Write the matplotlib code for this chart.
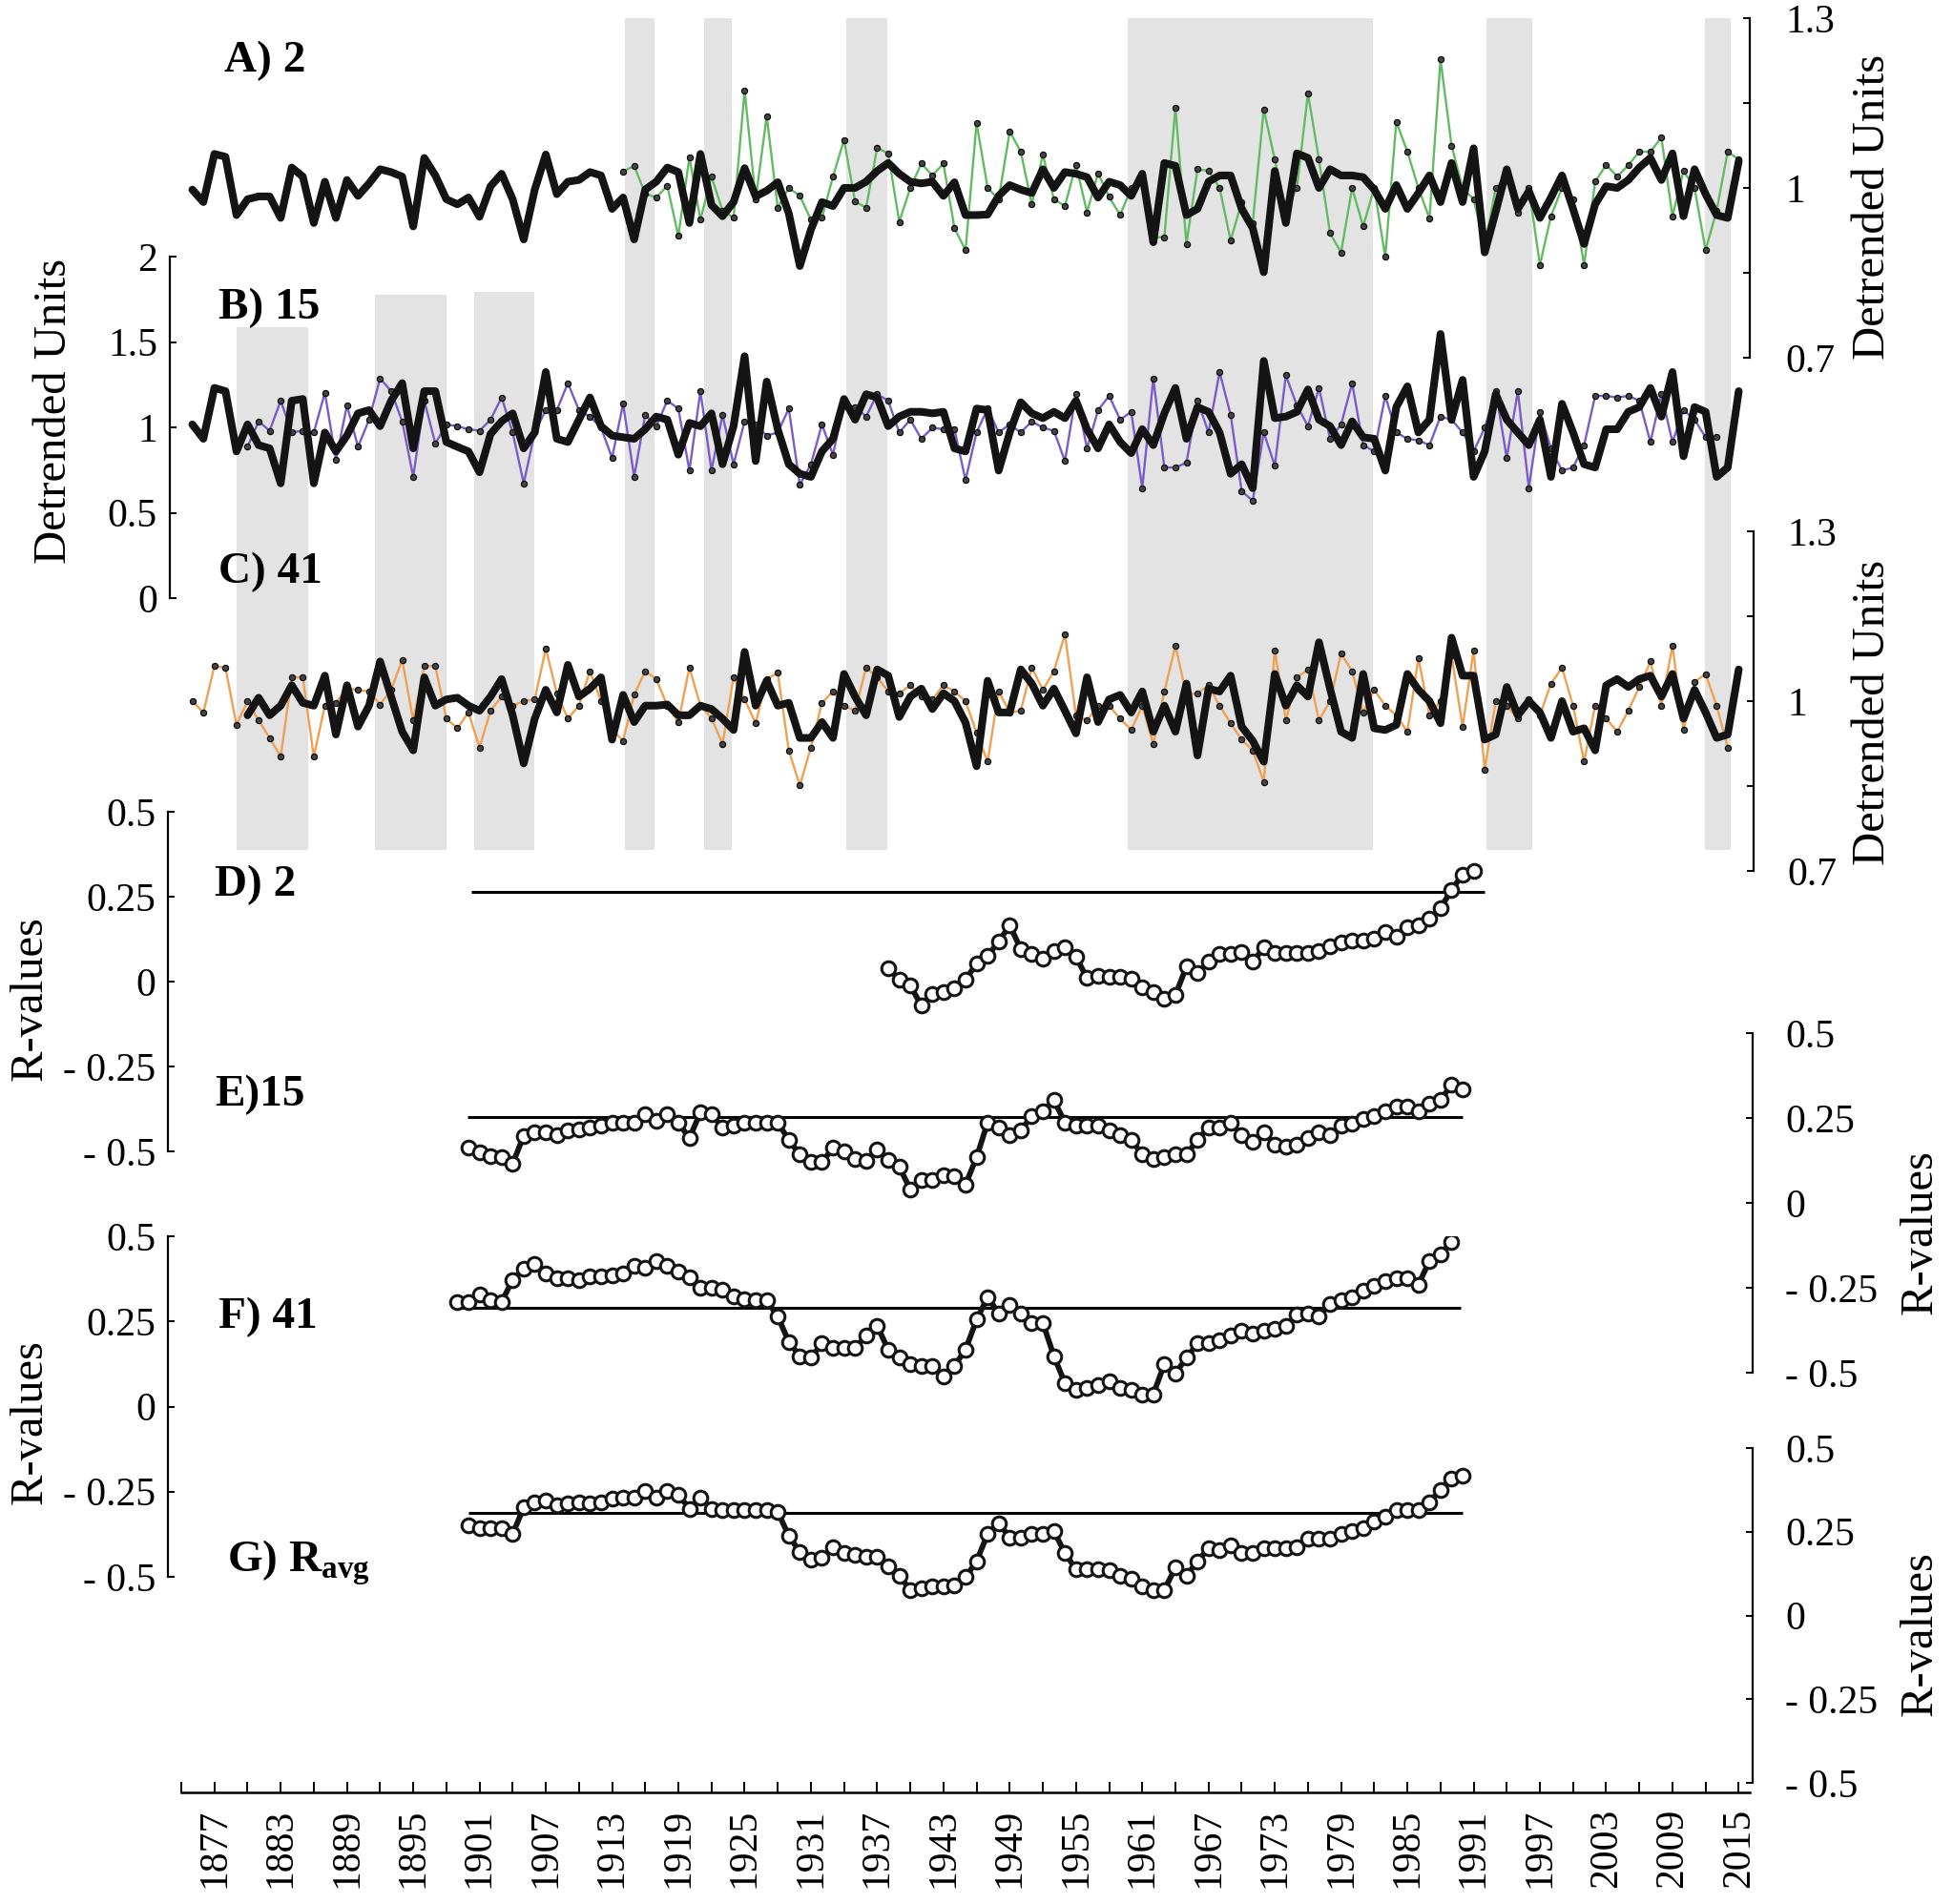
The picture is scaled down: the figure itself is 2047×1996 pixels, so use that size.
import numpy as np
import matplotlib
matplotlib.use('Agg')
import matplotlib.pyplot as plt

plt.rcParams['font.family'] = ['Liberation Serif', 'DejaVu Serif']
plt.rcParams['mathtext.fontset'] = 'custom'
plt.rcParams['mathtext.rm'] = 'Liberation Serif'
plt.rcParams['mathtext.bf'] = 'Liberation Serif:bold'

# ---- data ----
# shaded years
band_start = [1879.0, 1891.5, 1900.5, 1914.2, 1921.3, 1934.2, 1959.7, 1992.2, 2011.9]
band_end = [1885.5, 1898.0, 1906.0, 1916.8, 1923.8, 1937.9, 1981.9, 1996.3, 2014.3]

# panel A (site 2)
a_black_start = 1875
a_black = [0.997, 0.975, 1.060, 1.055, 0.952, 0.980, 0.985, 0.985, 0.947, 1.036,
           1.020, 0.938, 1.011, 0.947, 1.014, 0.986, 1.008, 1.033, 1.028, 1.020,
           0.932, 1.053, 1.022, 0.980, 0.971, 0.983, 0.949, 1.003, 1.025, 0.980,
           0.909, 0.997, 1.059, 0.989, 1.011, 1.014, 1.028, 1.022, 0.963, 0.983,
           0.909, 0.997, 1.011, 1.036, 1.028, 0.938, 1.060, 0.970, 0.950, 0.975,
           1.035, 0.985, 0.995, 1.010, 0.955, 0.862, 0.926, 0.975, 0.968, 1.000,
           1.000, 1.011, 1.030, 1.044, 1.025, 1.011, 1.008, 1.011, 0.986, 1.010,
           0.952, 0.952, 0.953, 0.986, 1.005, 0.997, 0.991, 1.033, 1.000, 1.028,
           1.025, 1.019, 0.983, 1.011, 1.005, 0.986, 1.025, 0.904, 1.044, 1.039,
           0.952, 0.963, 1.011, 1.022, 1.022, 0.963, 0.929, 0.851, 1.030, 0.938,
           1.061, 1.053, 1.000, 1.033, 1.022, 1.022, 1.019, 0.997, 0.963, 1.005,
           0.963, 0.991, 1.022, 0.975, 1.044, 0.975, 1.070, 0.886, 0.958, 1.033,
           0.963, 0.994, 0.947, 0.983, 1.022, 0.963, 0.901, 0.971, 1.003, 1.000,
           1.014, 1.036, 1.053, 1.014, 1.061, 0.950, 1.033, 0.989, 0.952, 0.947,
           1.047]
a_site_start = 1914
a_site = [1.029, 1.039, 0.990, 0.983, 1.004, 0.915, 1.054, 0.944, 1.020, 0.960,
          0.947, 1.172, 0.980, 1.127, 0.965, 1.000, 0.986, 0.944, 0.947, 1.020,
          1.085, 0.976, 0.965, 1.071, 1.061, 0.940, 1.000, 1.043, 1.022, 1.043,
          0.929, 0.890, 1.115, 1.000, 0.980, 1.100, 1.064, 0.971, 1.059, 0.980,
          0.968, 1.041, 0.957, 1.026, 0.984, 0.952, 1.000, 1.016, 0.913, 0.913,
          1.142, 0.901, 1.033, 1.030, 1.000, 0.907, 0.975, 0.938, 1.139, 1.050,
          0.960, 1.000, 1.167, 1.050, 0.920, 0.886, 1.000, 0.932, 1.000, 0.878,
          1.117, 1.064, 1.000, 0.946, 1.227, 1.075, 1.000, 0.980, 0.895, 1.000,
          1.020, 0.957, 1.000, 0.864, 0.950, 1.000, 0.980, 0.864, 1.011, 1.041,
          1.020, 1.040, 1.064, 1.064, 1.089, 0.950, 1.030, 1.000, 0.890, 0.960,
          1.064, 1.050]

# panel B (site 15)
b_black_start = 1875
b_black = [1.017, 0.933, 1.231, 1.212, 0.859, 1.017, 0.896, 0.877, 0.672, 1.156,
           1.166, 0.672, 0.970, 0.859, 0.952, 1.082, 1.101, 1.007, 1.156, 1.259,
           0.877, 1.212, 1.212, 0.914, 0.886, 0.859, 0.737, 0.961, 1.035, 1.082,
           0.877, 0.970, 1.324, 0.933, 0.914, 1.045, 1.175, 1.007, 0.952, 0.942,
           0.933, 0.989, 1.063, 1.045, 0.840, 1.026, 1.007, 1.082, 0.784, 1.007,
           1.417, 0.803, 1.268, 0.989, 0.784, 0.728, 0.710, 0.859, 0.933, 1.166,
           1.045, 1.194, 1.175, 1.007, 1.063, 1.091, 1.091, 1.082, 1.091, 0.877,
           0.859, 1.110, 1.101, 0.747, 0.970, 1.147, 1.082, 1.054, 1.091, 1.054,
           1.156, 0.989, 0.877, 1.017, 0.914, 0.849, 0.989, 0.896, 1.082, 1.231,
           0.933, 1.119, 1.091, 0.970, 0.728, 0.784, 0.644, 1.389, 1.054, 1.063,
           1.091, 1.222, 1.045, 1.007, 0.896, 1.035, 0.942, 0.933, 0.747, 1.119,
           1.240, 0.970, 1.045, 1.547, 1.045, 1.278, 0.710, 0.859, 1.194, 1.045,
           0.970, 0.896, 1.045, 0.710, 1.138, 0.970, 0.784, 0.765, 0.989, 0.989,
           1.091, 1.119, 1.231, 1.063, 1.324, 0.831, 1.119, 1.091, 0.710, 0.765,
           1.212]
b_site_start = 1880
b_site = [0.886, 1.035, 0.980, 1.156, 0.970, 0.980, 0.970, 1.203, 0.812, 1.128,
          0.886, 1.045, 1.287, 1.212, 1.035, 0.710, 1.156, 0.905, 1.017, 1.007,
          0.989, 0.980, 1.045, 1.175, 0.970, 0.672, 0.970, 1.101, 1.100, 1.259,
          1.101, 1.063, 0.998, 0.821, 1.138, 0.710, 1.073, 1.007, 1.156, 1.110,
          0.747, 1.212, 0.747, 1.073, 0.784, 1.035, 1.017, 0.952, 0.970, 1.110,
          0.663, 0.784, 1.017, 0.840, 1.138, 1.119, 1.063, 1.194, 1.156, 0.970,
          1.045, 0.933, 0.998, 0.989, 0.989, 0.691, 0.970, 1.110, 0.970, 1.017,
          0.970, 1.035, 0.998, 0.980, 0.803, 1.194, 0.877, 1.101, 1.184, 1.045,
          1.091, 0.644, 1.287, 0.765, 0.765, 0.793, 1.156, 0.970, 1.324, 1.073,
          0.626, 0.570, 0.970, 0.775, 1.305, 1.128, 1.007, 1.231, 0.933, 1.017,
          1.259, 0.896, 0.859, 1.184, 0.970, 0.933, 0.924, 0.896, 1.063, 1.045,
          0.970, 0.859, 0.998, 1.212, 0.821, 1.212, 0.644, 1.091, 0.877, 0.747,
          0.765, 0.896, 1.184, 1.184, 1.175, 1.184, 1.156, 0.914, 1.194, 0.914,
          1.101, 1.045, 0.942, 0.942]

# panel C (site 41)
c_black_start = 1880
c_black = [0.975, 1.006, 0.975, 0.992, 1.028, 0.997, 0.992, 1.045, 0.941, 1.028,
           0.955, 0.992, 1.070, 1.008, 0.946, 0.913, 1.042, 0.992, 1.003, 1.006,
           0.992, 0.983, 1.008, 1.039, 0.975, 0.890, 0.969, 1.020, 0.980, 1.064,
           1.008, 1.022, 1.042, 0.932, 1.011, 0.963, 0.992, 0.992, 0.994, 0.975,
           0.975, 0.992, 0.986, 0.969, 0.949, 1.087, 0.992, 1.036, 0.992, 0.997,
           0.935, 0.935, 0.963, 0.935, 1.048, 1.008, 0.975, 1.056, 1.045, 0.972,
           1.008, 1.022, 0.986, 1.014, 1.000, 0.962, 0.885, 1.036, 0.980, 0.980,
           1.056, 1.031, 0.992, 1.022, 0.983, 0.943, 1.042, 0.963, 1.003, 1.011,
           0.980, 1.017, 0.946, 0.992, 0.946, 1.031, 0.904, 1.022, 1.017, 1.045,
           0.955, 0.930, 0.893, 1.048, 0.992, 1.028, 1.008, 1.104, 1.022, 0.946,
           0.935, 1.048, 0.952, 0.949, 0.958, 1.048, 1.020, 1.000, 0.961, 1.112,
           1.045, 1.045, 0.932, 0.941, 1.025, 0.975, 1.000, 0.980, 0.935, 1.000,
           0.946, 0.952, 0.913, 1.028, 1.039, 1.025, 1.039, 1.045, 1.008, 1.048,
           0.969, 1.020, 0.980, 0.935, 0.941, 1.056]
c_site_start = 1875
c_site = [1.000, 0.980, 1.062, 1.059, 0.958, 1.000, 0.966, 0.935, 0.902, 1.042,
          1.042, 0.902, 0.992, 0.997, 1.022, 1.020, 1.017, 0.994, 1.020, 1.073,
          0.966, 1.062, 1.062, 0.969, 0.952, 0.980, 0.918, 0.983, 1.008, 0.992,
          1.000, 1.003, 1.093, 1.014, 0.969, 0.992, 1.053, 1.000, 0.949, 0.930,
          1.011, 1.053, 1.039, 0.992, 0.963, 1.059, 0.992, 0.970, 0.924, 1.042,
          1.003, 0.961, 1.039, 1.050, 0.913, 0.851, 0.918, 0.997, 1.017, 0.992,
          0.983, 1.059, 1.042, 1.017, 1.014, 1.028, 1.008, 1.003, 1.028, 1.017,
          1.000, 0.944, 0.893, 1.017, 0.980, 0.983, 1.059, 1.020, 1.053, 1.118,
          0.975, 0.966, 0.992, 0.992, 0.969, 0.949, 0.992, 0.924, 1.017, 1.098,
          1.011, 1.014, 1.028, 0.992, 0.961, 0.932, 0.913, 0.857, 1.090, 0.966,
          1.042, 1.056, 0.966, 1.000, 1.084, 1.053, 0.980, 1.020, 0.992, 0.975,
          0.946, 1.076, 0.975, 1.000, 1.081, 0.955, 1.090, 0.879, 1.000, 0.992,
          0.969, 1.003, 0.975, 1.031, 1.059, 0.992, 0.893, 0.992, 0.969, 0.946,
          0.983, 1.025, 1.070, 0.992, 1.098, 0.949, 1.034, 1.048, 0.992, 0.918]

# moving correlations (R-values)
d_start = 1938
d_r = [0.039, 0.006, -0.012, -0.070, -0.036, -0.031, -0.020, 0.006, 0.053, 0.077,
       0.117, 0.166, 0.096, 0.081, 0.067, 0.091, 0.100, 0.072, 0.011, 0.018,
       0.014, 0.014, 0.008, -0.017, -0.031, -0.050, -0.040, 0.044, 0.025, 0.058,
       0.081, 0.081, 0.086, 0.058, 0.100, 0.083, 0.083, 0.083, 0.083, 0.091,
       0.105, 0.114, 0.121, 0.121, 0.126, 0.145, 0.133, 0.161, 0.166, 0.184,
       0.217, 0.269, 0.316, 0.325]
e_start = 1900
e_r = [0.162, 0.148, 0.137, 0.134, 0.115, 0.198, 0.207, 0.207, 0.199, 0.213,
       0.216, 0.223, 0.228, 0.237, 0.237, 0.237, 0.260, 0.242, 0.260, 0.237,
       0.190, 0.267, 0.260, 0.223, 0.228, 0.235, 0.237, 0.237, 0.237, 0.185,
       0.143, 0.120, 0.120, 0.162, 0.153, 0.129, 0.125, 0.157, 0.126, 0.106,
       0.040, 0.068, 0.068, 0.082, 0.078, 0.054, 0.134, 0.237, 0.223, 0.199,
       0.213, 0.256, 0.270, 0.302, 0.237, 0.228, 0.228, 0.228, 0.213, 0.199,
       0.185, 0.143, 0.129, 0.134, 0.143, 0.143, 0.185, 0.223, 0.223, 0.237,
       0.199, 0.181, 0.209, 0.171, 0.167, 0.171, 0.190, 0.209, 0.199, 0.228,
       0.232, 0.246, 0.256, 0.270, 0.284, 0.284, 0.270, 0.293, 0.302, 0.349,
       0.335]
f_start = 1899
f_r = [0.307, 0.307, 0.328, 0.311, 0.307, 0.372, 0.405, 0.419, 0.391, 0.377,
       0.377, 0.372, 0.381, 0.381, 0.386, 0.391, 0.414, 0.407, 0.428, 0.414,
       0.395, 0.379, 0.349, 0.349, 0.344, 0.323, 0.316, 0.311, 0.311, 0.265,
       0.190, 0.148, 0.143, 0.185, 0.171, 0.171, 0.171, 0.209, 0.237, 0.167,
       0.143, 0.125, 0.120, 0.120, 0.087, 0.120, 0.167, 0.255, 0.321, 0.274,
       0.297, 0.274, 0.246, 0.246, 0.148, 0.069, 0.050, 0.055, 0.064, 0.073,
       0.055, 0.050, 0.036, 0.036, 0.125, 0.097, 0.143, 0.185, 0.185, 0.195,
       0.209, 0.223, 0.213, 0.223, 0.227, 0.237, 0.269, 0.272, 0.265, 0.302,
       0.311, 0.321, 0.341, 0.353, 0.367, 0.377, 0.377, 0.358, 0.428, 0.447,
       0.484]
g_start = 1900
g_r = [0.268, 0.262, 0.262, 0.262, 0.243, 0.323, 0.338, 0.344, 0.328, 0.335,
       0.338, 0.335, 0.338, 0.350, 0.352, 0.352, 0.371, 0.352, 0.371, 0.361,
       0.319, 0.352, 0.319, 0.316, 0.316, 0.316, 0.316, 0.314, 0.309, 0.238,
       0.190, 0.167, 0.171, 0.205, 0.186, 0.181, 0.176, 0.176, 0.148, 0.119,
       0.076, 0.081, 0.086, 0.086, 0.091, 0.114, 0.162, 0.243, 0.276, 0.233,
       0.233, 0.243, 0.243, 0.252, 0.186, 0.138, 0.138, 0.138, 0.135, 0.119,
       0.110, 0.086, 0.076, 0.076, 0.143, 0.119, 0.162, 0.200, 0.195, 0.209,
       0.186, 0.186, 0.200, 0.200, 0.200, 0.205, 0.228, 0.228, 0.228, 0.243,
       0.252, 0.262, 0.281, 0.295, 0.314, 0.314, 0.314, 0.338, 0.376, 0.409,
       0.418]
# significance lines: level, first year, last year
sig_level = [0.264, 0.253, 0.290, 0.306]
sig_from = [1900.3, 1899.9, 1898.7, 1900.0]
sig_to = [1992.0, 1990.0, 1989.8, 1990.0]

# ---- layout (pixels of the 2047x1996 canvas) ----
WPX, HPX = 2047, 1996
X0, X1 = 1874, 2016
LEFT, RIGHT = 190, 1834

fig = plt.figure(figsize=(WPX / 100, HPX / 100), dpi=100)


def add_panel(top, bottom):
    ax = fig.add_axes([LEFT / WPX, 1 - bottom / HPX, (RIGHT - LEFT) / WPX, (bottom - top) / HPX])
    ax.set_xlim(X0, X1)
    ax.patch.set_visible(False)
    for sp in ax.spines.values():
        sp.set_visible(False)
    ax.set_xticks([])
    ax.set_yticks([])
    return ax


def y_axis(ax, side, lim, ticks, labels, offset, pad):
    ax.set_ylim(*lim)
    sp = ax.spines[side]
    sp.set_visible(True)
    sp.set_linewidth(1.6)
    sp.set_bounds(*lim)
    sp.set_position(('outward', offset))
    ax.yaxis.set_ticks_position(side)
    ax.set_yticks(ticks)
    ax.set_yticklabels(labels)
    ax.tick_params(axis='y', direction='in', length=5, width=1.4, labelsize=30, pad=pad)


# shaded bands, drawn first so everything sits on top
bg = add_panel(0, HPX)
bg.set_ylim(HPX, 0)
band_top = [343, 309, 306, 19, 19, 19, 19, 19, 19]
for s, e, t in zip(band_start, band_end, band_top):
    bg.axvspan(s, e, ymin=1 - 891 / HPX, ymax=1 - t / HPX, color='#e3e3e3', lw=0)

ticks13 = [0.7, 0.85, 1.0, 1.15, 1.3]
labels13 = ['0.7', '', '1', '', '1.3']
rticks = [-0.5, -0.25, 0, 0.25, 0.5]
rlabels = ['- 0.5', '- 0.25', '0', '0.25', '0.5']


def site_panel(ax, start, vals, color, bstart, bvals):
    yrs = np.arange(start, start + len(vals))
    ax.plot(yrs, vals, color=color, lw=1.7, zorder=2)
    ax.plot(yrs, vals, 'o', ms=4.5, mfc='#444444', mec='black', mew=0.8, zorder=3)
    byrs = np.arange(bstart, bstart + len(bvals))
    ax.plot(byrs, bvals, color='#141414', lw=5.8, solid_joinstyle='round',
            solid_capstyle='round', zorder=4)


ax_a = add_panel(19, 375)
y_axis(ax_a, 'right', (0.7, 1.3), ticks13, labels13, 0, 27)
site_panel(ax_a, a_site_start, a_site, '#62bb62', a_black_start, a_black)

ax_b = add_panel(269, 627)
y_axis(ax_b, 'left', (0, 2), [0, 0.5, 1, 1.5, 2], ['0', '0.5', '1', '1.5', '2'], 9, 9)
site_panel(ax_b, b_site_start, b_site, '#7a5cc8', b_black_start, b_black)

ax_c = add_panel(557, 913)
y_axis(ax_c, 'right', (0.7, 1.3), ticks13, labels13, 3, 25)
site_panel(ax_c, c_site_start, c_site, '#f0a050', c_black_start, c_black)


def r_panel(ax, start, vals, k):
    yrs = np.arange(start, start + len(vals))
    ax.hlines(sig_level[k], sig_from[k], sig_to[k], color='black', lw=2.2, zorder=2)
    ax.plot(yrs, vals, '-o', color='#141414', lw=4.2, ms=10.5, mfc='white', mec='#141414',
            mew=2.2, zorder=3)


ax_d = add_panel(851, 1207)
y_axis(ax_d, 'left', (-0.5, 0.5), rticks, rlabels, 10, 9)
r_panel(ax_d, d_start, d_r, 0)

ax_e = add_panel(1083, 1439)
y_axis(ax_e, 'right', (-0.5, 0.5), rticks, rlabels, 2, 25)
r_panel(ax_e, e_start, e_r, 1)

ax_f = add_panel(1296, 1653)
y_axis(ax_f, 'left', (-0.5, 0.5), rticks, rlabels, 10, 9)
r_panel(ax_f, f_start, f_r, 2)

ax_g = add_panel(1518, 1869)
y_axis(ax_g, 'right', (-0.5, 0.5), rticks, rlabels, 2, 25)
r_panel(ax_g, g_start, g_r, 3)

# shared year axis at the bottom
ax_x = add_panel(1800, 1879)
ax_x.spines['bottom'].set_visible(True)
ax_x.spines['bottom'].set_linewidth(1.8)
ax_x.set_xticks(np.arange(1877, 2016, 6))
ax_x.set_xticklabels([str(y) for y in range(1877, 2016, 6)], rotation=90)
ax_x.set_xticks(np.arange(1874, 2016, 6), minor=True)
ax_x.tick_params(axis='x', which='both', direction='in', length=8, width=1.4,
                 labelsize=30, pad=12)

# axis titles
tkw = dict(rotation=90, ha='center', va='center', fontsize=35)
fig.text(57 / WPX, 1 - 431 / HPX, 'Detrended Units', **tkw)
fig.text(1963 / WPX, 1 - 217 / HPX, 'Detrended Units', **tkw)
fig.text(1963 / WPX, 1 - 747 / HPX, 'Detrended Units', **tkw)
fig.text(32 / WPX, 1 - 1047 / HPX, 'R-values', **tkw)
fig.text(2013 / WPX, 1 - 1292 / HPX, 'R-values', **tkw)
fig.text(32 / WPX, 1 - 1491 / HPX, 'R-values', **tkw)
fig.text(2013 / WPX, 1 - 1713 / HPX, 'R-values', **tkw)

# panel tags
pkw = dict(ha='left', va='center', fontsize=34, fontweight='bold')
fig.text(235 / WPX, 1 - 64 / HPX, 'A) 2', **pkw)
fig.text(229 / WPX, 1 - 323 / HPX, 'B) 15', **pkw)
fig.text(229 / WPX, 1 - 600 / HPX, 'C) 41', **pkw)
fig.text(225 / WPX, 1 - 928 / HPX, 'D) 2', **pkw)
fig.text(225 / WPX, 1 - 1148 / HPX, 'E)15', **pkw)
fig.text(229 / WPX, 1 - 1381 / HPX, 'F) 41', **pkw)
fig.text(238 / WPX, 1 - 1638 / HPX, r'G) R$_{\mathbf{avg}}$', **pkw)

fig.savefig('out.png', dpi=100)
